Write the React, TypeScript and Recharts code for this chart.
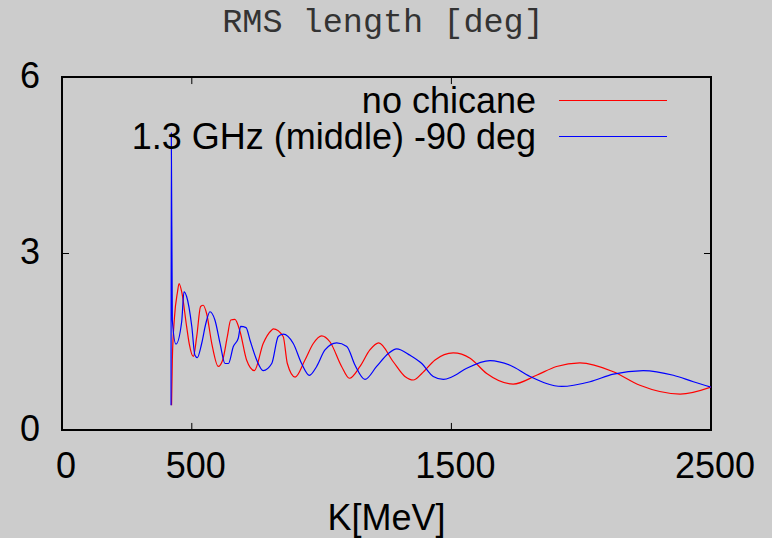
import { LineChart, Line, XAxis, YAxis, Legend, ReferenceArea, ReferenceLine } from 'recharts';

// K [MeV] and RMS length [deg]
const kNoChicane = [
  422, 425, 433, 445, 451, 461, 480, 490, 506, 519, 534, 544, 557, 577, 602, 619, 637, 650, 666, 686,
  711, 741, 775, 808, 814, 852, 868, 898, 936, 968, 1000, 1032, 1077, 1107, 1148, 1186, 1220, 1276,
  1321, 1353, 1386, 1437, 1507, 1572, 1636, 1738, 1828, 1905, 1995, 2124, 2226, 2381, 2500,
];
const rmsNoChicane = [
  0.42, 1.2, 1.9, 2.35, 2.49, 2.35, 1.76, 1.47, 1.25, 1.59, 2.1, 2.12, 1.98, 1.47, 1.08, 1.19, 1.59, 1.87, 1.88, 1.67,
  1.19, 1.01, 1.47, 1.7, 1.72, 1.59, 1.13, 0.9, 1.19, 1.47, 1.6, 1.5, 1.08, 0.88, 1.08, 1.36, 1.48, 1.16,
  0.91, 0.85, 0.96, 1.19, 1.31, 1.22, 0.96, 0.78, 0.93, 1.08, 1.14, 0.99, 0.76, 0.61, 0.73,
];

const kChicane = [
  420, 421, 425, 439, 461, 470, 480, 500, 512, 521, 538, 554, 570, 589, 609, 628, 641, 660, 679, 688,
  709, 724, 750, 775, 808, 833, 852, 891, 923, 953, 981, 1013, 1058, 1097, 1129, 1167, 1212, 1257,
  1289, 1341, 1386, 1430, 1469, 1501, 1559, 1649, 1726, 1803, 1925, 2034, 2124, 2239, 2355, 2432, 2500,
];
const rmsChicane = [
  0.42, 5.05, 1.87, 1.46, 1.84, 2.35, 2.27, 1.76, 1.27, 1.23, 1.47, 1.81, 2.01, 1.87, 1.47, 1.13, 1.13, 1.42, 1.56, 1.76,
  1.74, 1.53, 1.19, 1.01, 1.13, 1.59, 1.63, 1.47, 1.13, 0.93, 1.08, 1.36, 1.48, 1.42, 1.1, 0.86, 1.08, 1.3,
  1.38, 1.27, 1.13, 0.91, 0.86, 0.9, 1.05, 1.18, 1.1, 0.91, 0.74, 0.82, 0.95, 1.01, 0.93, 0.82, 0.73,
];

const seriesNames = ['no chicane', '1.3 GHz (middle) -90 deg'];
const seriesColors = ['#ff0000', '#0000ff'];

const xTicks = [0, 500, 1500, 2500];
const yTicks = [0, 3, 6];

const toPoints = (ks: number[], vs: number[]) => ks.map((k, i) => ({ k, v: vs[i] }));

const LegendBox = () => (
  <div>
    {seriesNames.map((name, i) => (
      <div key={name} style={{ position: 'relative', height: 36 }}>
        <div
          style={{
            position: 'absolute',
            left: 0,
            top: 0,
            width: 436,
            textAlign: 'right',
            fontSize: 36,
            lineHeight: '36px',
            color: '#000',
            whiteSpace: 'nowrap',
          }}
        >
          {name}
        </div>
        <div
          style={{
            position: 'absolute',
            left: 459,
            top: 17,
            width: 108,
            height: 1,
            backgroundColor: seriesColors[i],
          }}
        />
      </div>
    ))}
  </div>
);

export default function App() {
  const tickStyle = { fill: '#000', fontSize: 36 };

  return (
    <div
      style={{
        position: 'absolute',
        left: 0,
        top: 0,
        width: 772,
        height: 538,
        background: '#cccccc',
        fontFamily: '"Liberation Sans", Arial, sans-serif',
        overflow: 'hidden',
      }}
    >
      <div
        style={{
          position: 'absolute',
          top: 6,
          left: 0,
          width: 766,
          textAlign: 'center',
          fontFamily: '"Liberation Mono", monospace',
          fontSize: 33.5,
          lineHeight: '34px',
          color: '#333',
        }}
      >
        RMS length [deg]
      </div>
      <LineChart width={772} height={538} margin={{ top: 77, right: 61, bottom: 0, left: 0 }}>
        <XAxis
          dataKey="k"
          type="number"
          domain={[0, 2500]}
          ticks={xTicks}
          allowDataOverflow
          height={108}
          tickLine={false}
          axisLine={false}
          tickSize={0}
          tickMargin={22}
          tick={{ ...tickStyle, dx: 4 }}
          label={{ value: 'K[MeV]', position: 'insideBottom', offset: 8, fill: '#000', fontSize: 36 }}
        />
        <YAxis
          type="number"
          domain={[0, 6]}
          ticks={yTicks}
          width={62}
          tickLine={false}
          axisLine={false}
          tickSize={0}
          tickMargin={22}
          tick={{ ...tickStyle, dy: -2 }}
        />
        <ReferenceArea x1={0} x2={2500} y1={0} y2={6} fill="none" stroke="#000" strokeWidth={2} ifOverflow="visible" />
        {[500, 1500].map((t) => (
          <ReferenceLine key={`b${t}`} segment={[{ x: t, y: 0 }, { x: t, y: 0.12 }]} stroke="#000" ifOverflow="visible" />
        ))}
        {[500, 1500].map((t) => (
          <ReferenceLine key={`t${t}`} segment={[{ x: t, y: 6 }, { x: t, y: 5.88 }]} stroke="#000" ifOverflow="visible" />
        ))}
        <ReferenceLine segment={[{ x: 0, y: 3 }, { x: 27, y: 3 }]} stroke="#000" ifOverflow="visible" />
        <ReferenceLine segment={[{ x: 2473, y: 3 }, { x: 2500, y: 3 }]} stroke="#000" ifOverflow="visible" />
        <Legend
          layout="horizontal"
          verticalAlign="middle"
          align="center"
          content={<LegendBox />}
          wrapperStyle={{ left: 100, top: 83, width: 580 }}
        />
        <Line
          data={toPoints(kNoChicane, rmsNoChicane)}
          dataKey="v"
          name={seriesNames[0]}
          type="monotone"
          stroke={seriesColors[0]}
          strokeWidth={1.2}
          dot={false}
          isAnimationActive={false}
        />
        <Line
          data={toPoints(kChicane, rmsChicane)}
          dataKey="v"
          name={seriesNames[1]}
          type="monotone"
          stroke={seriesColors[1]}
          strokeWidth={1.2}
          dot={false}
          isAnimationActive={false}
        />
      </LineChart>
    </div>
  );
}
